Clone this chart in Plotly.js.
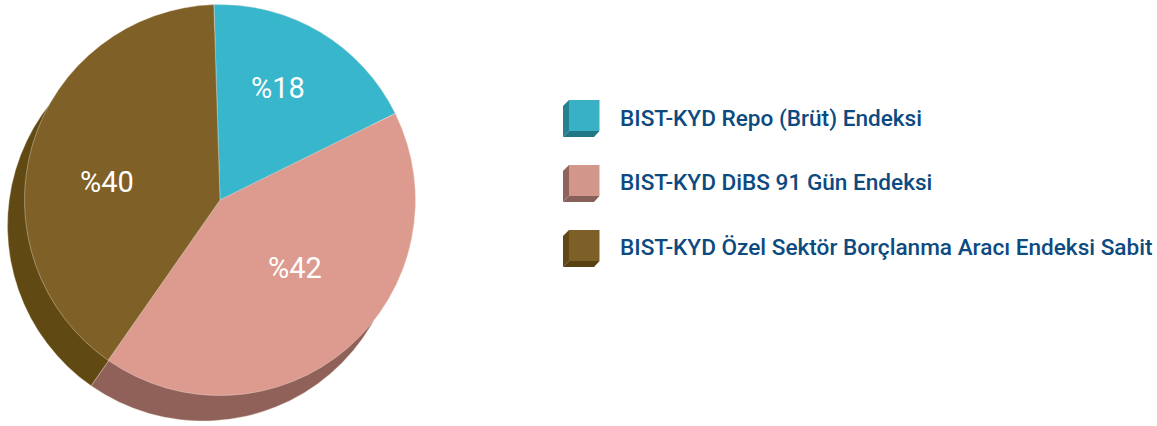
<!DOCTYPE html>
<html>
<head>
<meta charset="utf-8">
<script src="https://cdn.plot.ly/plotly-3.0.1.min.js"></script>
<style>html,body{margin:0;padding:0;background:#fff;overflow:hidden}#chart{width:1157px;height:426px}</style>
</head>
<body>
<div id="chart"></div>
<script>
const categories = ["BIST-KYD Repo (Brüt) Endeksi", "BIST-KYD DiBS 91 Gün Endeksi", "BIST-KYD Özel Sektör Borçlanma Aracı Endeksi Sabit"];
const shares = [18.2, 42, 39.8];
const faceColors = ["#38b6cc", "#dd9a8e", "#7f6127"];
const shadowColors = ["#237f8f", "#8f6159", "#614914"];
const swatchColors = ["#38b1c6", "#d3968a", "#7d5f28"];
const swatchSide = ["#25808f", "#8e645c", "#5f4816"];
const swatchBottom = ["#217885", "#87605a", "#584212"];

const W = 1157, H = 426;
const px = x => x / W;
const py = y => 1 - y / H;
const domainFor = (cx, cy, r) => ({x: [px(cx - r), px(cx + r)], y: [py(cy + r), py(cy - r)]});

const ROT = -1.8;
const pieBase = {
  type: "pie", values: shares, labels: categories, sort: false, direction: "clockwise",
  rotation: ROT, textinfo: "none", hoverinfo: "skip", showlegend: false
};
const traces = [
  Object.assign({}, pieBase, {domain: domainFor(203, 225.5, 195.5), marker: {colors: shadowColors, line: {width: 0.4, color: "#e8dcc8"}}}),
  Object.assign({}, pieBase, {domain: domainFor(220, 200, 195.5), marker: {colors: faceColors, line: {width: 0.4, color: "#efe6dc"}}})
];

const labelAnchors = [[278, 88], [295, 268], [107, 182]];
const rowY = [118, 183, 248];
const legendTextY = [118, 182.5, 248];

const annotations = [];
shares.forEach((v, i) => annotations.push({
  text: "%" + Math.round(v), xref: "paper", yref: "paper", x: px(labelAnchors[i][0]), y: py(labelAnchors[i][1]),
  xanchor: "center", yanchor: "middle", showarrow: false,
  font: {family: "Roboto, sans-serif", size: 29, color: "#ffffff"}
}));
categories.forEach((c, i) => annotations.push({
  text: c, xref: "paper", yref: "paper", x: px(618), y: py(legendTextY[i]),
  xanchor: "left", yanchor: "middle", showarrow: false,
  font: {family: "Roboto, sans-serif", size: 22.6, weight: 500, color: "#0d4a80"}
}));

const poly = (pts, fill) => ({
  type: "path", xref: "paper", yref: "paper", fillcolor: fill, line: {width: 0},
  path: "M" + pts.map(p => px(p[0]) + "," + py(p[1])).join("L") + "Z"
});
const shapes = [];
rowY.forEach((cy, i) => {
  const t = cy - 18, b = cy + 13;
  shapes.push(poly([[569, t], [563, t + 6], [563, b + 6], [569, b]], swatchSide[i]));
  shapes.push(poly([[563, b + 6], [594, b + 6], [599.5, b], [569, b]], swatchBottom[i]));
  shapes.push(poly([[569, t], [599.5, t], [599.5, b], [569, b]], swatchColors[i]));
});

Plotly.newPlot("chart", traces, {
  width: W, height: H, margin: {l: 0, r: 0, t: 0, b: 0},
  paper_bgcolor: "#ffffff", annotations: annotations, shapes: shapes
}, {displayModeBar: false, staticPlot: true});
</script>
</body>
</html>
